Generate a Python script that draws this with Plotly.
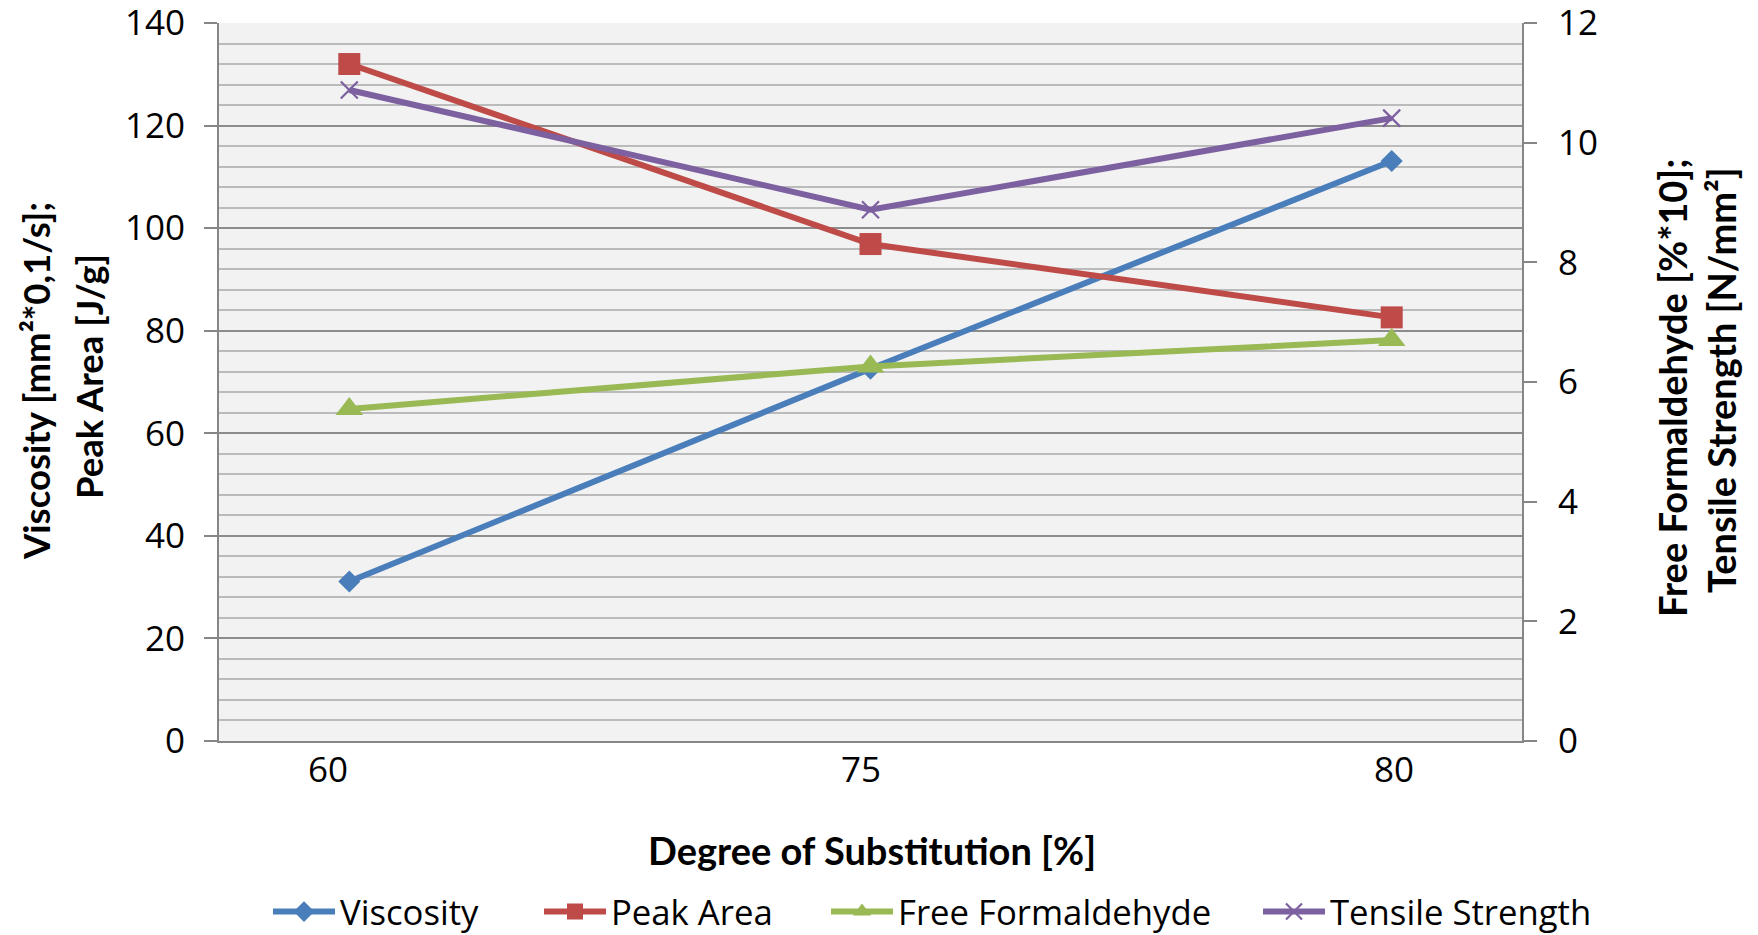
import plotly.graph_objects as go

# Degree of substitution categories
categories = ["60", "75", "80"]

# Left axis series
viscosity = [31.1, 72.6, 113.1]
peak_area = [132.0, 96.9, 82.6]

# Right axis series
free_formaldehyde = [5.55, 6.26, 6.70]
tensile_strength = [10.88, 8.88, 10.41]

left_ticks = [0, 20, 40, 60, 80, 100, 120, 140]
right_ticks = [0, 2, 4, 6, 8, 10, 12]

BLUE = "#4A7EBB"
RED = "#BE4B48"
GREEN = "#98B954"
PURPLE = "#7D60A0"
AXIS_GREY = "#868686"

TICK_FONT = dict(family="Open Sans", size=35, color="#000000")
TITLE_FONT = dict(family="Lato", size=38, color="#000000", weight="bold")
LEFT_TITLE_FONT = dict(TITLE_FONT, size=36.5)

W, H = 1758, 935
ML, MR, MT, MB = 219, 236, 23, 194
plot_w = W - ML - MR
plot_h = H - MT - MB

xpos = list(range(len(categories)))

fig = go.Figure()
fig.add_trace(go.Scatter(
    x=xpos, y=viscosity, name="Viscosity", mode="lines+markers",
    line=dict(color=BLUE, width=6), legend="legend",
    marker=dict(symbol="diamond", size=17, color=BLUE),
))
fig.add_trace(go.Scatter(
    x=xpos, y=peak_area, name="Peak Area", mode="lines+markers",
    line=dict(color=RED, width=6), legend="legend2",
    marker=dict(symbol="square", size=22, color=RED),
))
fig.add_trace(go.Scatter(
    x=xpos, y=free_formaldehyde, name="Free Formaldehyde", mode="lines+markers",
    yaxis="y2", legend="legend3",
    line=dict(color=GREEN, width=6),
    marker=dict(symbol="triangle-up", size=24, color=GREEN),
))
fig.add_trace(go.Scatter(
    x=xpos, y=tensile_strength, name="Tensile Strength", mode="lines+markers",
    yaxis="y2", legend="legend4",
    line=dict(color=PURPLE, width=6),
    marker=dict(symbol="x-thin", size=17, color=PURPLE,
                line=dict(color=PURPLE, width=2.2)),
))
# empty carrier trace so the category label axis is laid out
fig.add_trace(go.Scatter(
    x=xpos, y=[None] * len(xpos), xaxis="x2", mode="none",
    showlegend=False, hoverinfo="skip",
))


def px_x(px):
    return (px - ML) / plot_w


def px_y(py):
    return (H - MB - py) / plot_h


def legend_at(px):
    return dict(
        orientation="h", x=px_x(px), xanchor="left",
        y=px_y(912), yanchor="middle",
        font=dict(family="Open Sans", size=34.7, color="#000000"),
        itemwidth=62, bgcolor="rgba(0,0,0,0)",
    )


fig.update_layout(
    width=W, height=H,
    margin=dict(l=ML, r=MR, t=MT, b=MB, autoexpand=False),
    paper_bgcolor="#FFFFFF",
    plot_bgcolor="#F2F2F2",
    showlegend=True,
    legend=legend_at(268),
    legend2=legend_at(539),
    legend3=legend_at(826),
    legend4=legend_at(1258),
    xaxis=dict(
        range=[-0.25, 2.25], tickvals=xpos, showticklabels=False,
        showgrid=False, zeroline=False, ticks="",
        showline=True, linecolor=AXIS_GREY, linewidth=2,
    ),
    # category labels along the bottom
    xaxis2=dict(
        overlaying="x", anchor="y", side="bottom",
        range=[-0.2045, 2.2402], tickvals=xpos, ticktext=categories,
        showgrid=False, zeroline=False, ticks="", showline=False,
        tickfont=TICK_FONT, ticklabelstandoff=5,
    ),
    yaxis=dict(
        range=[0, 140], tickvals=left_ticks, zeroline=False,
        showgrid=True, gridcolor="#8C8C8C", gridwidth=2,
        minor=dict(dtick=4, showgrid=True, gridcolor="#BBBBBB", gridwidth=2),
        ticks="outside", ticklen=13, tickwidth=2, tickcolor=AXIS_GREY,
        showline=True, linecolor=AXIS_GREY, linewidth=2,
        tickfont=TICK_FONT, ticklabelstandoff=12, ticklabeloverflow="allow",
    ),
    yaxis2=dict(
        range=[0, 12], tickvals=right_ticks, overlaying="y", side="right",
        showgrid=False, zeroline=False,
        ticks="outside", ticklen=13, tickwidth=2, tickcolor=AXIS_GREY,
        showline=True, linecolor=AXIS_GREY, linewidth=2,
        tickfont=TICK_FONT, ticklabelstandoff=14, ticklabeloverflow="allow",
    ),
)

# Axis titles (two-line titles placed as separate rotated lines)
fig.add_annotation(text="Viscosity [mm²*0,1/s];", x=px_x(36), y=px_y(381),
                   xref="paper", yref="paper", textangle=-90, showarrow=False,
                   xanchor="center", yanchor="middle", font=LEFT_TITLE_FONT)
fig.add_annotation(text="Peak Area [J/g]", x=px_x(89), y=px_y(377),
                   xref="paper", yref="paper", textangle=-90, showarrow=False,
                   xanchor="center", yanchor="middle", font=LEFT_TITLE_FONT)
fig.add_annotation(text="Free Formaldehyde [%*10];", x=px_x(1672), y=px_y(388),
                   xref="paper", yref="paper", textangle=-90, showarrow=False,
                   xanchor="center", yanchor="middle", font=TITLE_FONT)
fig.add_annotation(text="Tensile Strength [N/mm²]", x=px_x(1721), y=px_y(380),
                   xref="paper", yref="paper", textangle=-90, showarrow=False,
                   xanchor="center", yanchor="middle", font=TITLE_FONT)
fig.add_annotation(text="Degree of Substitution [%]", x=px_x(872), y=px_y(850),
                   xref="paper", yref="paper", showarrow=False,
                   xanchor="center", yanchor="middle", font=TITLE_FONT)

fig.write_html("out.html")
